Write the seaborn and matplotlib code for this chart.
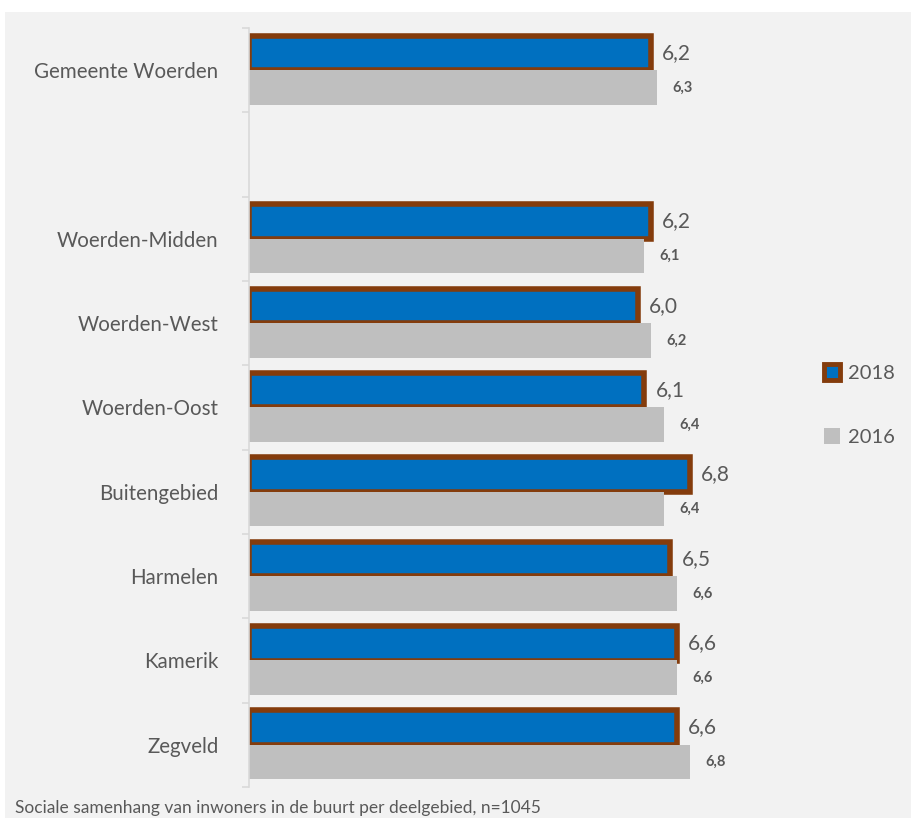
import seaborn as sns
import matplotlib.pyplot as plt
import pandas as pd
from matplotlib.patches import Patch, Rectangle

# data
categories = ["Gemeente Woerden", " ", "Woerden-Midden", "Woerden-West", "Woerden-Oost",
              "Buitengebied", "Harmelen", "Kamerik", "Zegveld"]
areas = ["Gemeente Woerden", "Woerden-Midden", "Woerden-West", "Woerden-Oost",
         "Buitengebied", "Harmelen", "Kamerik", "Zegveld"]
scores_2018 = [6.2, 6.2, 6.0, 6.1, 6.8, 6.5, 6.6, 6.6]
scores_2016 = [6.3, 6.1, 6.2, 6.4, 6.4, 6.6, 6.6, 6.8]
years = ["2018", "2016"]
caption = "Sociale samenhang van inwoners in de buurt per deelgebied, n=1045"

blue = "#0070C0"
brown = "#843C0C"
grey = "#BFBFBF"
bg = "#F2F2F2"
txt = "#595959"

df = pd.DataFrame({
    "gebied": areas * 2,
    "score": scores_2018 + scores_2016,
    "jaar": ["2018"] * len(areas) + ["2016"] * len(areas),
})

sns.set_style("white")
plt.rcParams["font.family"] = ["Lato", "DejaVu Sans"]

fig = plt.figure(figsize=(9.12, 8.18), dpi=100, facecolor="white")
fig.patches.append(Rectangle((5 / 912, 0), 1, 1 - 12 / 818, transform=fig.transFigure,
                             facecolor=bg, edgecolor="none", zorder=-10))
ax = fig.add_axes([249 / 912, 1 - 787 / 818, (800 - 249) / 912, (787 - 28) / 818])
ax.set_facecolor(bg)

sns.barplot(data=df, x="score", y="gebied", hue="jaar", order=categories, hue_order=years,
            palette={"2018": blue, "2016": grey}, saturation=1, orient="h", width=0.82,
            ax=ax, legend=False)

for bar in ax.containers[0]:
    bar.set_edgecolor(brown)
    bar.set_linewidth(4)
for bar in ax.containers[1]:
    bar.set_edgecolor("none")

ax.bar_label(ax.containers[0], labels=[f"{v:.1f}".replace(".", ",") for v in scores_2018],
             padding=8, fontsize=15, color=txt)
ax.bar_label(ax.containers[1], labels=[f"{v:.1f}".replace(".", ",") for v in scores_2016],
             padding=11, fontsize=10.5, fontweight="bold", color=txt)

ax.set_xlim(0, 8.5)
ax.set_ylim(len(categories) - 0.5, -0.5)
ax.set_xlabel("")
ax.set_ylabel("")
ax.set_xticks([])
for side in ["top", "right", "bottom"]:
    ax.spines[side].set_visible(False)
ax.spines["left"].set_color("#D9D9D9")
ax.spines["left"].set_linewidth(1.2)

ax.set_yticks(range(len(categories)))
ax.set_yticklabels(categories, fontsize=14.8, color=txt)
ax.tick_params(axis="y", which="major", length=0, pad=22)
ax.set_yticks([i - 0.5 for i in range(len(categories) + 1)], minor=True)
ax.tick_params(axis="y", which="minor", left=True, length=5, color="#D9D9D9", width=1.2)

handles = [Patch(facecolor=blue, edgecolor=brown, linewidth=3.5, label="2018"),
           Patch(facecolor=grey, edgecolor="none", label="2016")]
fig.legend(handles=handles, loc="center left", bbox_to_anchor=(806 / 912, 1 - 405 / 818),
           frameon=False, fontsize=14.5, labelcolor=txt, handlelength=0.8, handleheight=0.8,
           handletextpad=0.4, labelspacing=2.3)

fig.text(15 / 912, 5 / 818, caption, fontsize=12.5, color=txt, va="baseline", ha="left")

fig.savefig("out.png", dpi=100, facecolor="white")
